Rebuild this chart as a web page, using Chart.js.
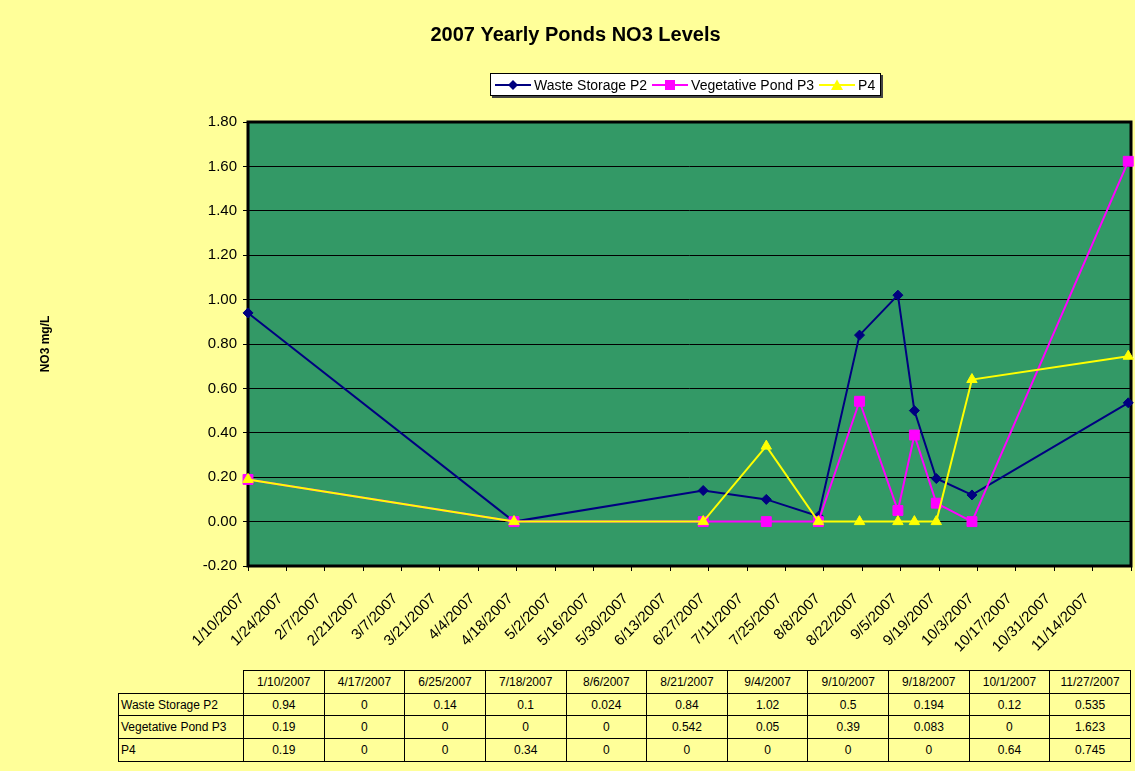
<!DOCTYPE html>
<html><head><meta charset="utf-8">
<script src="https://cdn.jsdelivr.net/npm/chart.js@4/dist/chart.umd.min.js"></script>
<style>
html,body{margin:0;padding:0;background:#FFFF99;}
body{width:1135px;height:771px;position:relative;overflow:hidden;font-family:"Liberation Sans",Arial,sans-serif;color:#000;}
#wrap{position:absolute;left:0;top:0;width:1135px;height:700px;}
#legend{position:absolute;left:490px;top:73px;height:21px;border:1px solid #000;background:#fff;box-shadow:2px 2px 0 #444;display:flex;align-items:center;font-size:14px;padding:0 5px 0 4px;white-space:nowrap;}
.item{display:flex;align-items:center;margin-right:5px}
.item:last-child{margin-right:0}
.item svg{margin-right:3px}
#tbl{position:absolute;left:118px;top:670px;border-collapse:collapse;font-size:12px;table-layout:fixed;width:1013px;background:#FFFF99;}
#tbl td{border:1px solid #000;height:21.7px;padding:0 2px;text-align:center;white-space:nowrap;overflow:hidden;}
#tbl td.lab{text-align:left;}
#tbl td.blank{border-top:none;border-left:none;}
</style></head>
<body>
<div id="wrap"><canvas id="c" width="1135" height="700"></canvas></div>
<div id="legend"></div>
<table id="tbl"></table>
<script>
// ---- data ----
const dates = ['1/10/2007','4/17/2007','6/25/2007','7/18/2007','8/6/2007','8/21/2007','9/4/2007','9/10/2007','9/18/2007','10/1/2007','11/27/2007'];
const wasteStorageP2 = [0.94, 0, 0.14, 0.1, 0.024, 0.84, 1.02, 0.5, 0.194, 0.12, 0.535];
const vegetativePondP3 = [0.19, 0, 0, 0, 0, 0.542, 0.05, 0.39, 0.083, 0, 1.623];
const p4 = [0.19, 0, 0, 0.34, 0, 0, 0, 0, 0, 0.64, 0.745];
const seriesNames = ['Waste Storage P2', 'Vegetative Pond P3', 'P4'];
const axisStartDate = '1/10/2007';
const axisEndDate = '11/28/2007';
const xTickStepDays = 14;
const yMin = -0.2, yMax = 1.8, yStep = 0.2;

// ---- helpers ----
function parseDate(s){ const [m,d,y] = s.split('/').map(Number); return Date.UTC(y, m-1, d); }
const t0 = parseDate(axisStartDate);
function dayOf(s){ return Math.round((parseDate(s) - t0) / 86400000); }
function fmtDay(v){ const dt = new Date(t0 + v*86400000); return (dt.getUTCMonth()+1) + '/' + dt.getUTCDate() + '/' + dt.getUTCFullYear(); }
const xMax = dayOf(axisEndDate);

const colors = ['#000080', '#FF00FF', '#FFFF00'];
const styles = ['rectRot', 'rect', 'triangle'];
const radii = [5, 7, 6];
const values = [wasteStorageP2, vegetativePondP3, p4];

const datasets = values.map((vals, i) => ({
  label: seriesNames[i],
  data: vals.map((v, k) => ({x: dayOf(dates[k]), y: v})),
  borderColor: colors[i],
  backgroundColor: colors[i],
  borderWidth: 2,
  pointStyle: styles[i],
  pointRadius: radii[i],
  pointBorderWidth: 1,
  pointBorderColor: colors[i],
  pointBackgroundColor: colors[i],
  tension: 0,
  clip: false,
  order: 2 - i
}));

const plotBox = {
  id: 'plotBox',
  beforeDraw(chart){
    const {ctx, chartArea: a} = chart;
    ctx.save(); ctx.fillStyle = '#339966'; ctx.fillRect(a.left, a.top, a.width, a.height); ctx.restore();
  },
  beforeDatasetsDraw(chart){
    const {ctx, chartArea: a} = chart;
    ctx.save(); ctx.lineWidth = 3; ctx.strokeStyle = '#000'; ctx.strokeRect(a.left, a.top, a.width, a.height); ctx.restore();
  }
};

Chart.defaults.font.family = "'Liberation Sans', Arial, sans-serif";
Chart.defaults.color = '#000';

new Chart(document.getElementById('c'), {
  type: 'line',
  data: { datasets },
  options: {
    responsive: false,
    animation: false,
    devicePixelRatio: 1,
    layout: { autoPadding: false, padding: { left: 20, right: 4, top: 20, bottom: 0 } },
    plugins: {
      legend: { display: false },
      tooltip: { enabled: false },
      title: { display: true, text: '2007 Yearly Ponds NO3 Levels', color: '#000',
               font: { size: 20, weight: 'bold' }, padding: { top: 3, bottom: 75 } }
    },
    scales: {
      x: {
        type: 'linear', min: 0, max: xMax,
        ticks: { stepSize: xTickStepDays, autoSkip: false, minRotation: 45, maxRotation: 45,
                 font: { size: 15 }, color: '#000', padding: 19, labelOffset: -6,
                 callback: v => (v >= xMax ? '' : fmtDay(v)) },
        grid: { drawOnChartArea: false, drawTicks: true, tickLength: 5, tickColor: '#000', color: '#000' },
        border: { display: false },
        afterFit: s => { s.height = 134; s.paddingLeft = 0; s.paddingRight = 0; }
      },
      y: {
        min: yMin, max: yMax,
        ticks: { stepSize: yStep, font: { size: 15 }, color: '#000', padding: 6,
                 callback: v => Number(v).toFixed(2) },
        grid: { color: '#000', lineWidth: 1, tickLength: 5, tickColor: '#000' },
        border: { display: false },
        title: { display: true, text: 'NO3 mg/L', color: '#000', font: { size: 12, weight: 'bold' }, padding: { top: 18 } },
        afterFit: s => { s.width = 228; s.paddingTop = 0; s.paddingBottom = 0; }
      }
    }
  },
  plugins: [plotBox]
});

// ---- legend (HTML) ----
const markerSvg = [
  c => `<polygon points="18,1 23,6 18,11 13,6" fill="${c}"/>`,
  c => `<rect x="13" y="1" width="10" height="10" fill="${c}"/>`,
  c => `<polygon points="18,0.5 24,11 12,11" fill="${c}"/>`
];
const leg = document.getElementById('legend');
seriesNames.forEach((n, i) => {
  const d = document.createElement('div'); d.className = 'item';
  d.innerHTML = `<svg width="36" height="12"><line x1="0" y1="6" x2="36" y2="6" stroke="${colors[i]}" stroke-width="2"/>${markerSvg[i](colors[i])}</svg><span>${n}</span>`;
  leg.appendChild(d);
});

// ---- data table (HTML) ----
const tbl = document.getElementById('tbl');
let html = '<colgroup><col style="width:125px">' + dates.map(() => '<col>').join('') + '</colgroup>';
html += '<tr><td class="blank"></td>' + dates.map(d => `<td>${d}</td>`).join('') + '</tr>';
values.forEach((vals, i) => {
  html += `<tr><td class="lab">${seriesNames[i]}</td>` + vals.map(v => `<td>${v}</td>`).join('') + '</tr>';
});
tbl.innerHTML = html;
</script>
</body></html>
